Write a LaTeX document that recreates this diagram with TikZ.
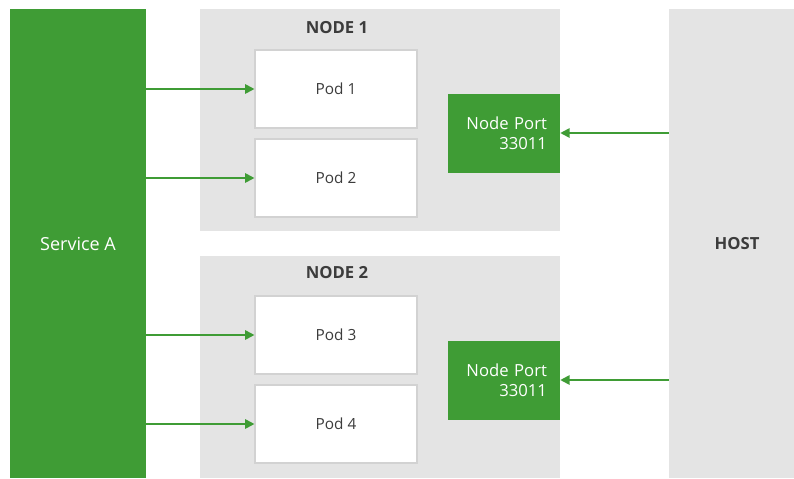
\documentclass[tikz,border=0pt]{standalone}
\usepackage{fontspec}
\setmainfont{Open Sans}
\usetikzlibrary{arrows.meta}

\definecolor{rhgreen}{HTML}{3F9C35}
\definecolor{nodegray}{HTML}{E4E4E4}
\definecolor{podline}{HTML}{D2D2D2}
\definecolor{textdark}{HTML}{3C3C3C}

\tikzset{
    greenbox/.style={fill=rhgreen, draw=none, inner sep=0pt, text=white, font=\fontsize{12.5}{15}\selectfont},
    graybox/.style={fill=nodegray, draw=none, inner sep=0pt},
    podbox/.style={fill=white, draw=podline, line width=0.8pt, inner sep=0pt, text=textdark, font=\fontsize{11.5}{15}\selectfont},
    title/.style={text=textdark, font=\fontsize{12.5}{15}\selectfont\bfseries},
    flow/.style={draw=rhgreen, line width=1.4pt, -{Triangle[length=7pt,width=7pt]}}
}

\begin{document}
\begin{tikzpicture}[x=0.75pt, y=-0.75pt]

    % Fix the page to the size of the reference
    \useasboundingbox (0,0) rectangle (794,479);

    % Service on the left
    \node[greenbox, minimum width=136*0.75pt, minimum height=469*0.75pt, font=\fontsize{13.5}{16}\selectfont] (svc) at (78,243.5) {Service A};

    % The two cluster nodes
    \node[graybox, minimum width=360*0.75pt, minimum height=222*0.75pt] (nodeA) at (380,120) {};
    \node[graybox, minimum width=360*0.75pt, minimum height=222*0.75pt] (nodeB) at (380,367) {};
    \node[title] at (337,28) {NODE 1};
    \node[title] at (337,273) {NODE 2};

    % Host on the right
    \node[graybox, minimum width=125*0.75pt, minimum height=469*0.75pt] (host) at (731.5,243.5) {};
    \node[title] at (737,243.5) {HOST};

    % Pods
    \node[podbox, minimum width=162*0.75pt, minimum height=78*0.75pt] (pod1) at (336,89) {Pod 1};
    \node[podbox, minimum width=162*0.75pt, minimum height=78*0.75pt] (pod2) at (336,178) {Pod 2};
    \node[podbox, minimum width=162*0.75pt, minimum height=78*0.75pt] (pod3) at (336,335) {Pod 3};
    \node[podbox, minimum width=162*0.75pt, minimum height=78*0.75pt] (pod4) at (336,424) {Pod 4};

    % Node ports
    \node[greenbox, minimum width=112*0.75pt, minimum height=79*0.75pt, text width=86*0.75pt, align=right] (portA) at (504,133) {Node Port\\33011};
    \node[greenbox, minimum width=112*0.75pt, minimum height=79*0.75pt, text width=86*0.75pt, align=right] (portB) at (504,380) {Node Port\\33011};

    % Service to pods
    \draw[flow] (svc.east |- pod1.west) -- (pod1.west);
    \draw[flow] (svc.east |- pod2.west) -- (pod2.west);
    \draw[flow] (svc.east |- pod3.west) -- (pod3.west);
    \draw[flow] (svc.east |- pod4.west) -- (pod4.west);

    % Host to node ports
    \draw[flow] (host.west |- portA.east) -- (portA.east);
    \draw[flow] (host.west |- portB.east) -- (portB.east);

\end{tikzpicture}
\end{document}
